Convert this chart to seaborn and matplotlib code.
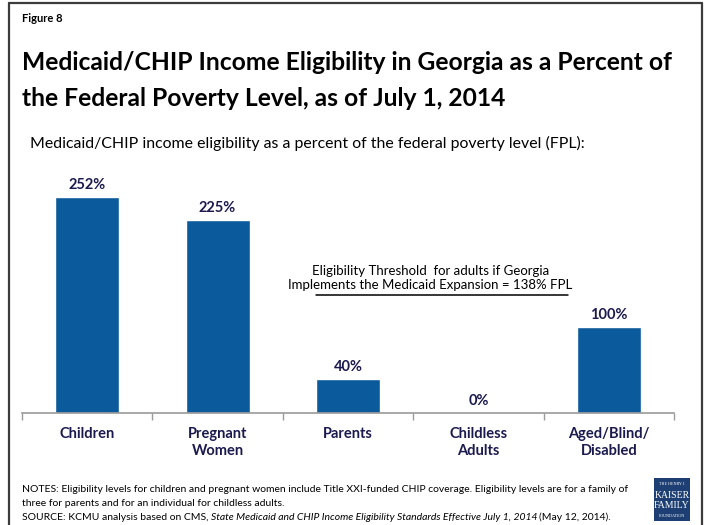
import matplotlib
matplotlib.use("Agg")
import matplotlib.pyplot as plt
from matplotlib.patches import Rectangle
import seaborn as sns
import pandas as pd

categories = ["Children", "Pregnant\nWomen", "Parents", "Childless\nAdults", "Aged/Blind/\nDisabled"]
eligibility = [252, 225, 40, 0, 100]
expansion_threshold = 138

BAR = "#0B5A9C"
NAVY = "#1B1A4F"

sns.set_theme(style="white")
plt.rcParams["font.family"] = ["Lato", "DejaVu Sans"]

df = pd.DataFrame({"group": categories, "pct": eligibility})

fig = plt.figure(figsize=(7.05, 5.25), dpi=100)
ax = fig.add_axes([22 / 705, 112 / 525, 652 / 705, 223 / 525])

sns.barplot(data=df, x="group", y="pct", color=BAR, width=0.49,
            saturation=1, ax=ax)

ax.set_xlim(-0.5, 4.5)
ax.set_ylim(0, 260)
ax.set_xlabel("")
ax.set_ylabel("")
ax.set_yticks([])
for s in ["top", "right", "left"]:
    ax.spines[s].set_visible(False)
ax.spines["bottom"].set_color("#9A9A9A")
ax.spines["bottom"].set_linewidth(1.2)

# category boundary ticks below the baseline
ax.set_xticks([i - 0.5 for i in range(len(categories) + 1)], minor=True)
ax.tick_params(axis="x", which="minor", bottom=True, length=5, width=1,
               color="#9A9A9A", direction="out")
ax.tick_params(axis="x", which="major", bottom=False, length=0, pad=10)
ax.set_xticks(range(len(categories)))
ax.set_xticklabels(categories, fontsize=10.5, fontweight="bold", color=NAVY,
                   linespacing=1.25, va="top")

for i, v in enumerate(eligibility):
    ax.text(i, v + 6, f"{v}%", ha="center", va="bottom", fontsize=10.5,
            fontweight="bold", color=NAVY)

# adult expansion threshold
ax.plot([1.755, 3.687], [expansion_threshold, expansion_threshold],
        color="black", lw=1.1)
ax.text(2.63, expansion_threshold + 4,
        "Eligibility Threshold  for adults if Georgia\n"
        "Implements the Medicaid Expansion = 138% FPL",
        ha="center", va="bottom", fontsize=9.5, color="black",
        linespacing=1.25)

# headings
fig.text(22 / 705, 1 - 18 / 525, "Figure 8", fontsize=8, fontweight="bold",
         va="center", ha="left", color="black")
fig.text(22 / 705, 1 - 62 / 525,
         "Medicaid/CHIP Income Eligibility in Georgia as a Percent of",
         fontsize=17.7, fontweight="bold", va="center", ha="left", color="black")
fig.text(22 / 705, 1 - 98 / 525,
         "the Federal Poverty Level, as of July 1, 2014",
         fontsize=17.7, fontweight="bold", va="center", ha="left", color="black")
fig.text(30 / 705, 1 - 143 / 525,
         "Medicaid/CHIP income eligibility as a percent of the federal poverty level (FPL):",
         fontsize=11.4, va="center", ha="left", color="black")

# notes and source
NFS = 7.5
notes_y = [490, 503, 517]
fig.text(22 / 705, 1 - notes_y[0] / 525,
         "NOTES: Eligibility levels for children and pregnant women include Title XXI-funded CHIP coverage. Eligibility levels are for a family of",
         fontsize=NFS, va="center", ha="left", color="black")
fig.text(22 / 705, 1 - notes_y[1] / 525,
         "three for parents and for an individual for childless adults.",
         fontsize=NFS, va="center", ha="left", color="black")
src = fig.text(22 / 705, 1 - notes_y[2] / 525,
               "SOURCE: KCMU analysis based on CMS, ",
               fontsize=NFS, va="center", ha="left", color="black")
fig.canvas.draw()
bb = src.get_window_extent()
x1 = bb.x1 / fig.bbox.width
it = fig.text(x1, 1 - notes_y[2] / 525,
              "State Medicaid and CHIP Income Eligibility Standards Effective July 1, 2014",
              fontsize=NFS, style="italic", va="center", ha="left", color="black")
bb2 = it.get_window_extent()
fig.text(bb2.x1 / fig.bbox.width + 0.002, 1 - notes_y[2] / 525, "(May 12, 2014).",
         fontsize=NFS, va="center", ha="left", color="black")

# foundation logo
fig.patches.append(Rectangle((654 / 705, 1 - 521 / 525), 36 / 705, 43 / 525,
                             transform=fig.transFigure, facecolor="#1D3F73",
                             edgecolor="none"))
logo_lines = [("THE HENRY J.", 3.0, 484), ("KAISER", 7.0, 495),
              ("FAMILY", 7.0, 506), ("FOUNDATION", 3.0, 516)]
for txt, fs, yy in logo_lines:
    fig.text(672 / 705, 1 - yy / 525, txt, fontsize=fs, color="white",
             family=["Liberation Serif", "DejaVu Serif"], ha="center",
             va="center")

# slide frame
frame_col = "#3C3C3C"
fig.add_artist(plt.Line2D([9 / 705, 9 / 705], [0, 1 - 3 / 525],
                          transform=fig.transFigure, color=frame_col, lw=1.6))
fig.add_artist(plt.Line2D([9 / 705, 702 / 705], [1 - 3 / 525, 1 - 3 / 525],
                          transform=fig.transFigure, color=frame_col, lw=1.6))
fig.add_artist(plt.Line2D([702 / 705, 702 / 705], [0, 1 - 3 / 525],
                          transform=fig.transFigure, color=frame_col, lw=1.6))

fig.savefig("out.png", dpi=100)
